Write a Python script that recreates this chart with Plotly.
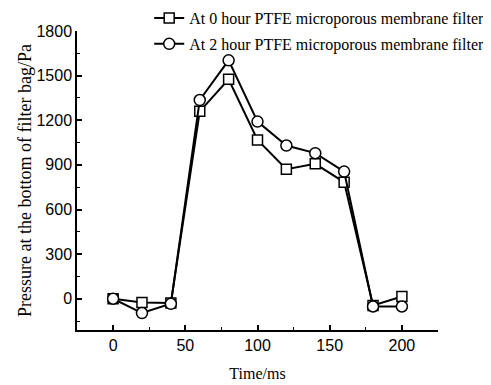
import plotly.graph_objects as go

time_ms = [0, 20, 40, 60, 80, 100, 120, 140, 160, 180, 200]
p_0h = [0, -25, -28, 1260, 1475, 1068, 871, 907, 784, -45, 15]
p_2h = [0, -96, -34, 1336, 1603, 1191, 1030, 979, 855, -52, -52]
names = ["At 0 hour PTFE microporous membrane filter",
         "At 2 hour PTFE microporous membrane filter"]
y_title = "Pressure at the bottom of filter bag/Pa"
x_title = "Time/ms"
y_ticks = [0, 300, 600, 900, 1200, 1500, 1800]
x_ticks = [0, 50, 100, 150, 200]
y_minor = [-150, 150, 450, 750, 1050, 1350, 1650]
x_minor = [-25, 25, 75, 125, 175, 225]

fig = go.Figure()
fig.add_trace(go.Scatter(x=time_ms, y=p_0h, name=names[0], mode="lines+markers",
                         legendgroup="a",
                         line=dict(color="black", width=2),
                         marker=dict(symbol="square", size=10, color="white",
                                     line=dict(color="black", width=1.5))))
fig.add_trace(go.Scatter(x=time_ms, y=p_2h, name=names[1], mode="lines+markers",
                         legendgroup="b",
                         line=dict(color="black", width=2),
                         marker=dict(symbol="circle", size=11, color="white",
                                     line=dict(color="black", width=1.5))))

def axis_common(minor_vals):
    return dict(showline=True, linecolor="black", linewidth=1.5, ticks="inside",
                tickcolor="black", ticklen=5, tickwidth=1.5, showgrid=False,
                zeroline=False, mirror=False, automargin=False,
                tickfont=dict(family="Liberation Sans", size=16, color="black"),
                minor=dict(ticks="inside", ticklen=3, tickcolor="black", tickwidth=1,
                           tickvals=minor_vals))

fig.update_xaxes(range=[-25, 225], tickvals=x_ticks,
                 title=dict(text=x_title, font=dict(family="Liberation Serif", size=16, color="black"),
                            standoff=15),
                 **axis_common(x_minor))
fig.update_yaxes(range=[-210, 1800], tickvals=y_ticks,
                 title=dict(text="\u00a0" * 8 + y_title,
                            font=dict(family="Liberation Serif", size=18, color="black"), standoff=0),
                 **axis_common(y_minor))

fig.update_layout(
    width=483, height=377,
    margin=dict(l=69, r=53, t=23, b=55, autoexpand=False),
    plot_bgcolor="white", paper_bgcolor="white",
    showlegend=True,
    legend=dict(x=0.2, y=1.1, xanchor="left", yanchor="top", bgcolor="rgba(0,0,0,0)",
                font=dict(family="Liberation Serif", size=16, color="black"),
                traceorder="grouped", tracegroupgap=2, itemwidth=30),
)
fig.write_html("out.html")
